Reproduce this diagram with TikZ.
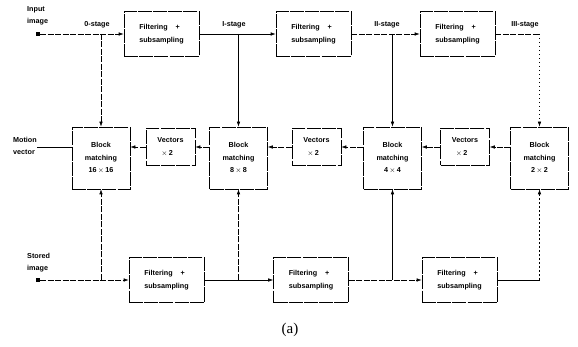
\documentclass[tikz,border=0pt]{standalone}
\usepackage{fontspec}
\setmainfont{Liberation Sans}
\newfontfamily\capfont{Liberation Serif}
\usetikzlibrary{arrows.meta}
\begin{document}
\begin{tikzpicture}[x=1pt,y=-1pt,
  >={Latex[length=5pt,width=3.5pt]},
  txt/.style={font=\fontsize{7.2}{12.5}\selectfont\bfseries, inner sep=0pt},
  box/.style={txt, draw, line width=0.6pt, dash pattern=on 14pt off 1.2pt},
  fbox/.style={box, minimum width=75pt, minimum height=45pt, align=left},
  bmbox/.style={box, minimum width=58pt, minimum height=62pt, align=center},
  vbox/.style={box, minimum width=49pt, minimum height=37pt, align=left},
  conn/.style={line width=0.6pt},
  dconn/.style={line width=0.6pt, dash pattern=on 6pt off 1.5pt},
  dotconn/.style={line width=0.6pt, dash pattern=on 1.5pt off 2.5pt},
  sq/.style={fill, minimum size=4pt, inner sep=0pt},
  lab/.style={txt, align=left}]
\useasboundingbox (0,0) rectangle (578,347);

% top row
\node[fbox] (F1) at (161.5,34) {Filtering\ \ \ \ +\\subsampling};
\node[fbox] (F2) at (313.5,34) {Filtering\ \ \ \ +\\subsampling};
\node[fbox] (F3) at (457.5,34) {Filtering\ \ \ \ +\\subsampling};
% bottom row
\node[fbox] (F4) at (166.5,280) {Filtering\ \ \ \ +\\subsampling};
\node[fbox] (F5) at (311,280) {Filtering\ \ \ \ +\\subsampling};
\node[fbox] (F6) at (459.5,280) {Filtering\ \ \ \ +\\subsampling};
% middle row
\node[bmbox] (BM1) at (101,158) {Block\\matching\\16\,$\times$\,16};
\node[bmbox] (BM2) at (238.5,158) {Block\\matching\\8\,$\times$\,8};
\node[bmbox] (BM3) at (392.5,158) {Block\\matching\\4\,$\times$\,4};
\node[bmbox] (BM4) at (539.5,158) {Block\\matching\\2\,$\times$\,2};
\node[vbox] (V1) at (170.5,147) {Vectors\\\ \ $\times$\,2};
\node[vbox] (V2) at (316.5,147) {Vectors\\\ \ $\times$\,2};
\node[vbox] (V3) at (465,147) {Vectors\\\ \ $\times$\,2};

% labels
\node[lab, anchor=north west] (inlab) at (27,6) {Input\\image};
\node[sq] (in) at (38,34) {};
\node[lab, anchor=north west] (stlab) at (27,253) {Stored\\image};
\node[sq] (st) at (38,280) {};
\node[lab, anchor=north west] (mvlab) at (13,137) {Motion\\vector};
\node[txt] (s0) at (97,25) {0-stage};
\node[txt] (s1) at (234,25) {I-stage};
\node[txt] (s2) at (387,25) {II-stage};
\node[txt] (s3) at (525,25) {III-stage};
\node[font=\capfont\fontsize{15}{17}\selectfont, inner sep=0pt] (cap) at (290,330) {(a)};

% top connectors
\coordinate (t0) at (BM1 |- F1.west);
\coordinate (t1) at (BM2 |- F1.west);
\coordinate (t2) at (BM3 |- F2.west);
\coordinate (t3) at (BM4 |- F3.east);
\draw[dconn,->] (in) -- (F1.west);
\draw[dconn,->] (t0) -- (BM1.north);
\draw[conn,->] (F1.east) -- (F2.west);
\draw[conn,->] (t1) -- (BM2.north);
\draw[dconn,->] (F2.east) -- (F3.west);
\draw[conn,->] (t2) -- (BM3.north);
\draw[dconn] (F3.east) -- (t3);
\draw[dotconn,->] (t3) -- (BM4.north);

% bottom connectors
\coordinate (u0) at (BM1 |- F4.west);
\coordinate (u1) at (BM2 |- F4.east);
\coordinate (u2) at (BM3 |- F5.east);
\coordinate (u3) at (BM4 |- F6.east);
\draw[dconn,->] (st) -- (F4.west);
\draw[dconn,->] (u0) -- (BM1.south);
\draw[conn,->] (F4.east) -- (F5.west);
\draw[dconn,->] (u1) -- (BM2.south);
\draw[dconn,->] (F5.east) -- (F6.west);
\draw[conn,->] (u2) -- (BM3.south);
\draw[conn] (F6.east) -- (u3);
\draw[dotconn,->] (u3) -- (BM4.south);

% middle connectors
\draw[dconn,->] (BM4.west |- V3.east) -- (V3.east);
\draw[dconn,->] (V3.west) -- (BM3.east |- V3.west);
\draw[dconn,->] (BM3.west |- V2.east) -- (V2.east);
\draw[dconn,->] (V2.west) -- (BM2.east |- V2.west);
\draw[dconn,->] (BM2.west |- V1.east) -- (V1.east);
\draw[dconn,->] (V1.west) -- (BM1.east |- V1.west);
\draw[conn] (BM1.west |- V1.west) -- (mvlab.east |- V1.west);
\end{tikzpicture}
\end{document}
